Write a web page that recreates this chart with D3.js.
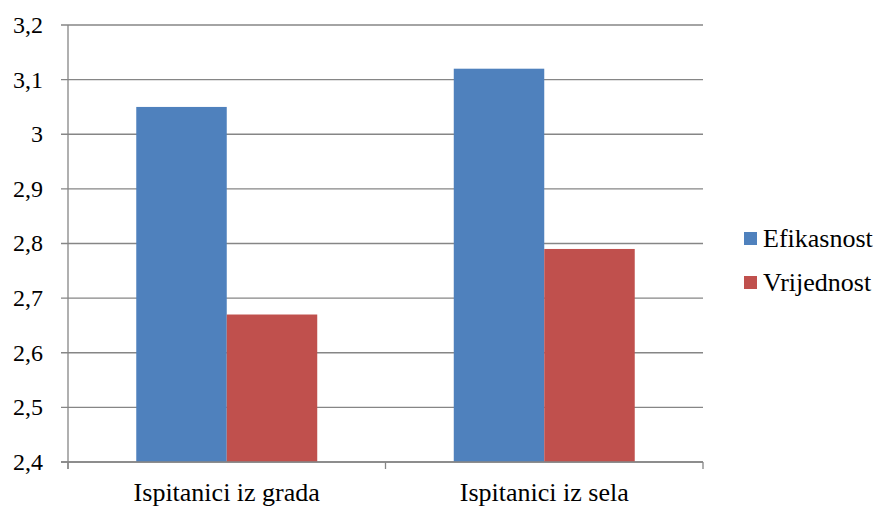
<!DOCTYPE html>
<html><head><meta charset="UTF-8"></head>
<body style="margin:0">
  <svg id="svg" width="877" height="507"></svg>
  <script src="https://d3js.org/d3.v7.min.js"></script>
  <script>
    const categories = ['Ispitanici iz grada', 'Ispitanici iz sela']
    const seriesNames = ['Efikasnost', 'Vrijednost']
    const efikasnost = [3.05, 3.12]
    const vrijednost = [2.67, 2.79]
    const yTicks = [2.4, 2.5, 2.6, 2.7, 2.8, 2.9, 3.0, 3.1, 3.2]
    const colors = ['#4F81BD', '#C0504D']

    const FONT = 'Liberation Serif'

    const data = categories.map((c, i) => ({ category: c, values: [efikasnost[i], vrijednost[i]] }))

    const margin = { top: 25, left: 68, right: 174, bottom: 45 }
    const width = 877 - margin.left - margin.right
    const height = 507 - margin.top - margin.bottom

    const svg = d3.select('#svg').attr('font-family', FONT)
    const g = svg.append('g').attr('transform', `translate(${margin.left}, ${margin.top})`)

    // x scale
    const xscale = d3.scaleBand()
      .domain(categories)
      .range([0, width])

    const inner = d3.scaleBand()
      .domain(seriesNames)
      .range([0, xscale.bandwidth() * 0.57])

    // y scale
    const yscale = d3.scaleLinear()
      .domain([2.4, 3.2])
      .range([height, 0])

    // gridlines + left ticks, drawn by hand so no axis font attributes get in the way
    const grid = g.append('g')
    grid.selectAll('line')
      .data(yTicks)
      .enter()
      .append('line')
      .attr('x1', -7).attr('x2', width)
      .attr('y1', d => yscale(d)).attr('y2', d => yscale(d))
      .attr('stroke', '#868686')
      .attr('stroke-width', 1.3)
    grid.selectAll('text')
      .data(yTicks)
      .enter()
      .append('text')
      .attr('x', -25)
      .attr('y', d => yscale(d))
      .attr('dy', '0.33em')
      .attr('text-anchor', 'end')
      .attr('font-family', FONT)
      .attr('font-size', 24)
      .text(d => d3.format('.1f')(d).replace('.', ',').replace(',0', ''))

    // bars
    const offset = (xscale.bandwidth() - inner.range()[1]) / 2
    const groups = g.selectAll('.group')
      .data(data)
      .enter()
      .append('g')
      .attr('transform', d => `translate(${xscale(d.category) + offset}, 0)`)

    groups.selectAll('rect')
      .data(d => d.values.map((v, i) => ({ name: seriesNames[i], value: v, i })))
      .enter()
      .append('rect')
      .attr('x', d => inner(d.name))
      .attr('y', d => yscale(d.value))
      .attr('width', inner.bandwidth())
      .attr('height', d => height - yscale(d.value))
      .attr('fill', d => colors[d.i])

    // y axis line
    g.append('line')
      .attr('x1', 0).attr('x2', 0)
      .attr('y1', 0).attr('y2', height + 7)
      .attr('stroke', '#868686').attr('stroke-width', 1.3)

    // x axis line with ticks at category boundaries
    g.append('line')
      .attr('x1', -7).attr('x2', width)
      .attr('y1', height).attr('y2', height)
      .attr('stroke', '#868686').attr('stroke-width', 1.3)
    const bounds = categories.map(c => xscale(c)).concat([width])
    g.selectAll('.xtick')
      .data(bounds)
      .enter()
      .append('line')
      .attr('x1', d => d).attr('x2', d => d)
      .attr('y1', height).attr('y2', height + 7)
      .attr('stroke', '#868686').attr('stroke-width', 1.3)

    g.selectAll('.xlabel')
      .data(categories)
      .enter()
      .append('text')
      .attr('x', d => xscale(d) + xscale.bandwidth() / 2)
      .attr('y', height + 39)
      .attr('text-anchor', 'middle')
      .attr('font-family', FONT)
      .attr('font-size', 26)
      .text(d => d)

    // legend
    const legend = svg.append('g').attr('transform', 'translate(744, 232)')
    const items = legend.selectAll('g')
      .data(seriesNames)
      .enter()
      .append('g')
      .attr('transform', (d, i) => `translate(0, ${i * 44})`)
    items.append('rect')
      .attr('width', 13).attr('height', 13)
      .attr('fill', (d, i) => colors[i])
    items.append('text')
      .attr('x', 19).attr('y', 15)
      .attr('font-family', FONT)
      .attr('font-size', 26)
      .text(d => d)
  </script>
</body>
</html>
